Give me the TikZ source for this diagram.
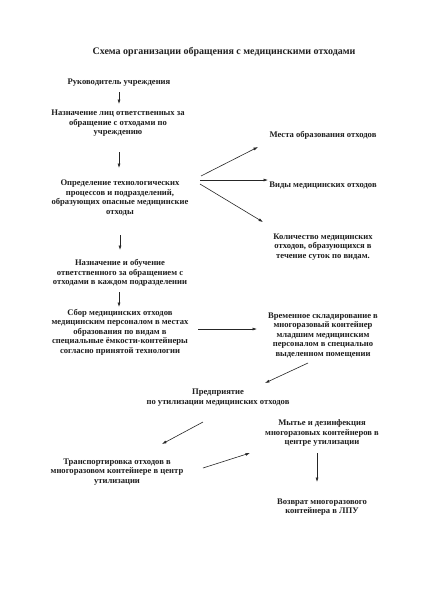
\documentclass[tikz,border=0pt]{standalone}
\usepackage{fontspec}
\setmainfont{Liberation Serif}
\usetikzlibrary{arrows.meta}
\begin{document}
\begin{tikzpicture}[x=1pt,y=-1pt,
  txt/.style={font=\bfseries\fontsize{8.6}{9.5}\selectfont, align=center, inner sep=0pt, text=black!88},
  ttl/.style={font=\bfseries\fontsize{10}{12}\selectfont, inner sep=0pt, text=black!88},
  arr/.style={-{Latex[length=4.5pt,width=3pt]}, line width=0.6pt, draw=black!85}]
\fill[white] (0,0) rectangle (436,600);
\useasboundingbox (0,0) rectangle (436,600);

\node[ttl] (title) at (224,52) {Схема организации обращения с медицинскими отходами};

\node[txt] (ruk) at (119,83) {Руководитель учреждения};
\node[txt] (nazn) at (118,123.5) {Назначение лиц ответственных за\\обращение с отходами по\\учреждению};
\node[txt] (opr) at (120,198) {Определение технологических\\процессов и подразделений,\\образующих опасные медицинские\\отходы};
\node[txt] (obuch) at (120,273) {Назначение и обучение\\ответственного за обращением с\\отходами в каждом подразделении};
\node[txt] (sbor) at (120,332) {Сбор медицинских отходов\\медицинским персоналом в местах\\образования по видам в\\специальные ёмкости-контейнеры\\согласно принятой технологии};
\node[txt] (vrem) at (323,335) {Временное складирование в\\многоразовый контейнер\\младшим медицинским\\персоналом в специально\\выделенном помещении};
\node[txt] (mesta) at (323,135) {Места образования отходов};
\node[txt] (vidy) at (323,185) {Виды медицинских отходов};
\node[txt] (kol) at (323,247) {Количество медицинских\\отходов, образующихся в\\течение суток по видам.};
\node[txt] (pred) at (218,397.5) {Предприятие\\по утилизации медицинских отходов};
\node[txt] (trans) at (117,472) {Транспортировка отходов в\\многоразовом контейнере в центр\\утилизации};
\node[txt] (myt) at (322,433) {Мытье и дезинфекция\\многоразовых контейнеров в\\центре утилизации};
\node[txt] (vozv) at (322,507) {Возврат многоразового\\контейнера в ЛПУ};

% arrow end points
\coordinate (a1s) at (119,92);   \coordinate (a1e) at (119,104);
\coordinate (a2s) at (119,152);  \coordinate (a2e) at (119,168);
\coordinate (f1s) at (201,176);  \coordinate (f1e) at (258,147);
\coordinate (f2s) at (200,180);  \coordinate (f2e) at (268,180);
\coordinate (f3s) at (200,184);  \coordinate (f3e) at (263,222);
\coordinate (a3s) at (120,235);  \coordinate (a3e) at (120,250);
\coordinate (a4s) at (119,292);  \coordinate (a4e) at (119,307);
\coordinate (hs) at (198,329);   \coordinate (he) at (257,329);
\coordinate (d1s) at (308,363);  \coordinate (d1e) at (265,383);
\coordinate (d2s) at (203,422);  \coordinate (d2e) at (162,444);
\coordinate (d3s) at (203,468);  \coordinate (d3e) at (250,453);
\coordinate (d4s) at (317,453);  \coordinate (d4e) at (317,482);

\draw[arr] (a1s) -- (a1e);
\draw[arr] (a2s) -- (a2e);
\draw[arr] (f1s) -- (f1e);
\draw[arr] (f2s) -- (f2e);
\draw[arr] (f3s) -- (f3e);
\draw[arr] (a3s) -- (a3e);
\draw[arr] (a4s) -- (a4e);
\draw[arr] (hs) -- (he);
\draw[arr] (d1s) -- (d1e);
\draw[arr] (d2s) -- (d2e);
\draw[arr] (d3s) -- (d3e);
\draw[arr] (d4s) -- (d4e);
\end{tikzpicture}
\end{document}
